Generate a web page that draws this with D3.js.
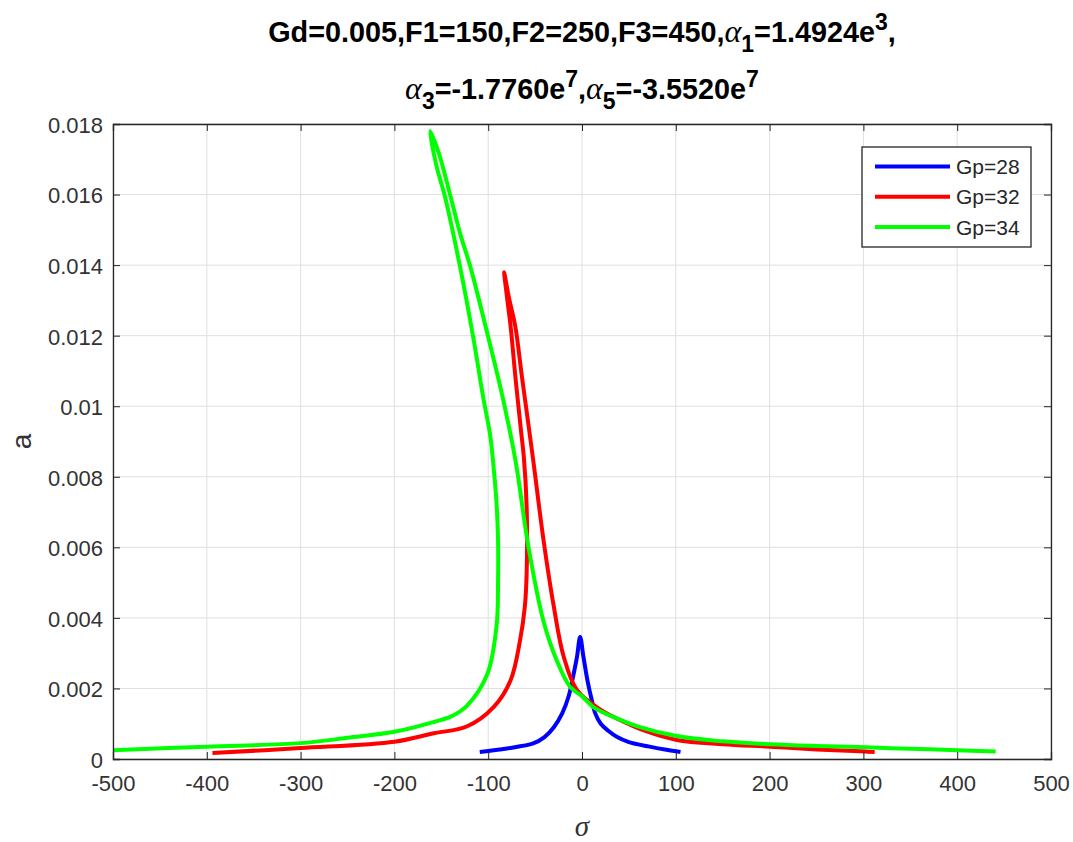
<!DOCTYPE html>
<html>
<head>
<meta charset="utf-8">
<script src="https://cdn.jsdelivr.net/npm/d3@7"></script>
<style>
body{margin:0;background:#fff;}
text{font-family:"Liberation Sans",Arial,sans-serif;}
</style>
</head>
<body>
<div id="chart"></div>
<script>
// series (sigma, a) along each curve
var sigma28 = [-109,-80,-52,-40,-30,-21,-14,-9,-5.3,-2,1.5,6,10.4,14,20,28,37,50,72,90,105];
var amp28   = [0.0002,0.0003,0.00044,0.00062,0.0009,0.0013,0.0018,0.0024,0.0029,0.00346,0.0029,0.0022,0.00167,0.0013,0.001,0.0008,0.00063,0.00048,0.00035,0.00026,0.0002];

var sigma32 = [-394,-300,-200,-158,-123,-94,-76,-66,-61,-59,-59,-62,-65,-71,-76,-80,-83,-78,-71,-64,-52,-41,-30,-19.5,-5.3,19.7,37,69,101,150,200,250,303,312];
var amp32   = [0.00017,0.00031,0.00049,0.00073,0.00092,0.00148,0.00224,0.00337,0.0043,0.00527,0.00715,0.00856,0.0093,0.01083,0.01224,0.0131,0.0138,0.01309,0.01224,0.01083,0.00847,0.0062,0.00431,0.0029,0.00195,0.0014,0.00115,0.00078,0.00054,0.00042,0.00035,0.00027,0.00021,0.0002];

var sigma34 = [-500,-400,-300,-250,-200,-158,-140,-123,-101,-91,-89.5,-89.5,-91,-94,-98,-105,-116,-130,-146,-155,-162,-152.5,-140,-130,-119,-100,-85,-71,-57,-41,-27,-12.8,0,11.7,37,60,101,150,200,250,303,350,400,441];
var amp34   = [0.00025,0.00035,0.00045,0.0006,0.00077,0.00105,0.0012,0.0015,0.0024,0.0038,0.005,0.0062,0.0072,0.0082,0.0092,0.0102,0.01196,0.01395,0.01593,0.0168,0.0178,0.01716,0.01593,0.0149,0.01395,0.01196,0.0103,0.00847,0.006,0.0039,0.0028,0.00205,0.00178,0.00148,0.00115,0.00092,0.00065,0.0005,0.00042,0.00037,0.00033,0.00029,0.00025,0.00021];

var seriesNames  = ["Gp=28","Gp=32","Gp=34"];
var seriesColors = ["#0000ff","#ff0000","#00ff00"];
var xTicks = [-500,-400,-300,-200,-100,0,100,200,300,400,500];
var yTicks = [0,0.002,0.004,0.006,0.008,0.01,0.012,0.014,0.016,0.018];

var W = 1073, H = 842;
var margin = {left:113, right:22, top:124, bottom:83};

var svg = d3.select("#chart").append("svg").attr("width",W).attr("height",H);

var x = d3.scaleLinear().domain([-500,500]).range([margin.left, W-margin.right]);
var y = d3.scaleLinear().domain([0,0.018]).range([H-margin.bottom, margin.top]);

// grid
svg.append("g").selectAll("line").data(xTicks).enter().append("line")
    .attr("x1",function(d){return x(d);}).attr("x2",function(d){return x(d);})
    .attr("y1",y(0)).attr("y2",y(0.018))
    .attr("stroke","#dfdfdf").attr("stroke-width",1);
svg.append("g").selectAll("line").data(yTicks).enter().append("line")
    .attr("y1",function(d){return y(d);}).attr("y2",function(d){return y(d);})
    .attr("x1",x(-500)).attr("x2",x(500))
    .attr("stroke","#dfdfdf").attr("stroke-width",1);

// curves
var data = [
    d3.zip(sigma28, amp28),
    d3.zip(sigma32, amp32),
    d3.zip(sigma34, amp34)
];
var line = d3.line().x(function(d){return x(d[0]);}).y(function(d){return y(d[1]);}).curve(d3.curveCatmullRom.alpha(0.5));
var plot = svg.append("g");
data.forEach(function(s,i){
    plot.append("path").datum(s).attr("d",line)
        .attr("fill","none").attr("stroke",seriesColors[i])
        .attr("stroke-width",4).attr("stroke-linejoin","round");
});

// axes (ticks inward, box on)
var fmtX = function(d){return String(d);};
var fmtY = function(d){return d===0 ? "0" : String(+d.toFixed(3));};
var axB = svg.append("g").attr("transform","translate(0,"+y(0)+")")
    .call(d3.axisBottom(x).tickValues(xTicks).tickSize(-7).tickPadding(16).tickFormat(fmtX));
var axL = svg.append("g").attr("transform","translate("+x(-500)+",0)")
    .call(d3.axisLeft(y).tickValues(yTicks).tickSize(-7).tickPadding(10).tickFormat(fmtY));
var axT = svg.append("g").attr("transform","translate(0,"+y(0.018)+")")
    .call(d3.axisTop(x).tickValues(xTicks).tickSize(-7).tickFormat(""));
var axR = svg.append("g").attr("transform","translate("+x(500)+",0)")
    .call(d3.axisRight(y).tickValues(yTicks).tickSize(-7).tickFormat(""));
[axB,axL,axT,axR].forEach(function(a){
    a.select(".domain").attr("stroke","#262626").attr("stroke-width",1.3);
    a.selectAll(".tick line").attr("stroke","#262626");
    a.selectAll(".tick text").attr("fill","#333").style("font-size","22px")
        .style("font-family","'Liberation Sans',Arial,sans-serif");
});
axL.selectAll(".tick text").attr("dy","0.38em");

// axis labels
svg.append("text").attr("x",x(0)).attr("y",836).attr("text-anchor","middle")
    .style("font-family","'Liberation Serif','Times New Roman',serif").style("font-style","italic")
    .style("font-size","29px").attr("fill","#333").text("σ");
svg.append("text").attr("transform","translate(31,"+((y(0)+y(0.018))/2)+") rotate(-90)")
    .attr("text-anchor","middle").style("font-size","28px").attr("fill","#333").text("a");

// title
var serif = "'Liberation Serif','Times New Roman',serif";
function greek(t, s){
    t.append("tspan").style("font-family",serif).style("font-style","italic")
        .style("font-weight","normal").style("font-size","32px").text(s);
}
var t1 = svg.append("text").attr("x",x(0)).attr("y",42).attr("text-anchor","middle")
    .style("font-size","28.8px").style("font-weight","bold").attr("fill","#000");
t1.append("tspan").text("Gd=0.005,F1=150,F2=250,F3=450,");
greek(t1,"α");
t1.append("tspan").attr("dy",10).style("font-size","23px").text("1");
t1.append("tspan").attr("dy",-10).text("=1.4924e");
t1.append("tspan").attr("dy",-12).style("font-size","23px").text("3");
t1.append("tspan").attr("dy",12).text(",");

var t2 = svg.append("text").attr("x",x(0)).attr("y",99).attr("text-anchor","middle")
    .style("font-size","28.8px").style("font-weight","bold").attr("fill","#000");
greek(t2,"α");
t2.append("tspan").attr("dy",10).style("font-size","23px").text("3");
t2.append("tspan").attr("dy",-10).text("=-1.7760e");
t2.append("tspan").attr("dy",-12).style("font-size","23px").text("7");
t2.append("tspan").attr("dy",12).text(",");
greek(t2,"α");
t2.append("tspan").attr("dy",10).style("font-size","23px").text("5");
t2.append("tspan").attr("dy",-10).text("=-3.5520e");
t2.append("tspan").attr("dy",-12).style("font-size","23px").text("7");

// legend
var lg = svg.append("g").attr("transform","translate(862,147)");
lg.append("rect").attr("width",169).attr("height",100).attr("fill","#fff")
    .attr("stroke","#262626").attr("stroke-width",1.3);
seriesNames.forEach(function(n,i){
    var ly = 19.5 + i*30.3;
    lg.append("line").attr("x1",13).attr("x2",88).attr("y1",ly).attr("y2",ly)
        .attr("stroke",seriesColors[i]).attr("stroke-width",4);
    lg.append("text").attr("x",94).attr("y",ly+7.5).style("font-size","21px").attr("fill","#262626").text(n);
});
</script>
</body>
</html>
